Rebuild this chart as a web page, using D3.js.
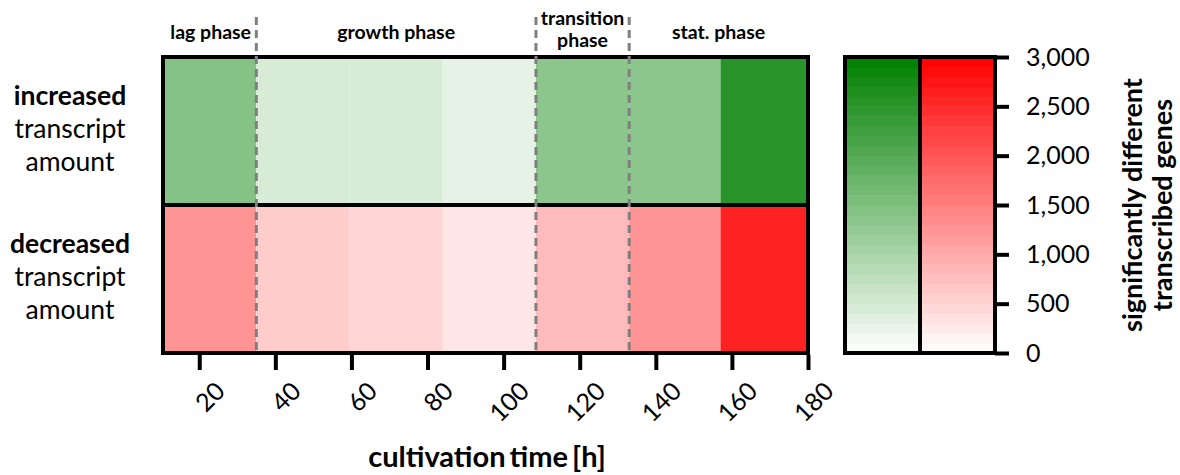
<!DOCTYPE html>
<html>
<head>
<meta charset="UTF-8">
<script src="https://d3js.org/d3.v7.min.js"></script>
<style>
    body { margin: 0; background: #fff; }
    text { font-family: Lato, "Open Sans", sans-serif; fill: #000; }
</style>
</head>
<body>
<svg id="chart" width="1180" height="475"></svg>
<script>
    // sampling points (h) - cell edges of the heat map
    var sampleTimes = [11, 35, 59.5, 84, 108.5, 133, 157, 180];
    var rowNames = ["increased", "decreased"];
    // number of significantly different transcribed genes per interval
    var increasedGenes = [1430, 470, 470, 300, 1340, 1350, 2520];
    var decreasedGenes = [1260, 600, 505, 295, 800, 1260, 2600];
    var timeTicks = [20, 40, 60, 80, 100, 120, 140, 160, 180];
    var colorTicks = [0, 500, 1000, 1500, 2000, 2500, 3000];
    var phaseBounds = [35, 108.5, 133];
    var phaseNames = [["lag phase"], ["growth phase"], ["transition", "phase"], ["stat. phase"]];
    var phaseEdges = [11, 35, 108.5, 133, 180];

    var svg = d3.select("#chart");

    var x = d3.scaleLinear().domain([11, 180]).range([165, 808]);
    var y = d3.scaleBand().domain(rowNames).range([57, 353]);
    var colorY = d3.scaleLinear().domain([0, 3000]).range([353, 57]);
    var green = d3.scaleLinear().domain([0, 3000]).range(["#ffffff", "#008000"]);
    var red = d3.scaleLinear().domain([0, 3000]).range(["#ffffff", "#ff0000"]);

    var rows = [
        {name: "increased", values: increasedGenes, color: green},
        {name: "decreased", values: decreasedGenes, color: red}
    ];

    // heat map cells
    var heat = svg.append("g");
    rows.forEach(function(r){
        heat.selectAll(null)
            .data(r.values)
            .enter()
            .append("rect")
                .attr("x", function(d,i){return x(sampleTimes[i]);})
                .attr("y", y(r.name))
                .attr("width", function(d,i){return x(sampleTimes[i+1]) - x(sampleTimes[i]);})
                .attr("height", y.bandwidth())
                .attr("fill", function(d){return r.color(d);});
    });

    // frame + row divider
    svg.append("rect")
        .attr("x", x(11) - 2).attr("y", 57)
        .attr("width", x(180) - x(11) + 2).attr("height", 296)
        .attr("fill", "none").attr("stroke", "#000").attr("stroke-width", 4);
    svg.append("line")
        .attr("x1", x(11) - 2).attr("x2", x(180))
        .attr("y1", y("decreased")).attr("y2", y("decreased"))
        .attr("stroke", "#000").attr("stroke-width", 4);

    // phase separators
    svg.selectAll(".phase")
        .data(phaseBounds)
        .enter()
        .append("line")
            .attr("x1", function(d){return x(d);})
            .attr("x2", function(d){return x(d);})
            .attr("y1", 17).attr("y2", 353)
            .attr("stroke", "#7f7f7f").attr("stroke-width", 3)
            .attr("stroke-dasharray", "8,5");

    // phase labels
    phaseNames.forEach(function(lines, i){
        var cx = (x(phaseEdges[i]) + x(phaseEdges[i+1])) / 2;
        var t = svg.append("text")
            .attr("text-anchor", "middle")
            .attr("font-size", 19.5)
            .attr("font-weight", "bold");
        lines.forEach(function(l, j){
            t.append("tspan")
                .attr("x", cx)
                .attr("y", lines.length === 1 ? 39 : 25 + j * 22)
                .text(l);
        });
    });

    // row labels
    rows.forEach(function(r){
        var cy = y(r.name) + y.bandwidth() / 2;
        var t = svg.append("text")
            .attr("text-anchor", "middle")
            .attr("font-size", 26.5);
        t.append("tspan").attr("x", 70).attr("y", cy - 26).attr("font-weight", "bold").text(r.name);
        t.append("tspan").attr("x", 70).attr("y", cy + 7).text("transcript");
        t.append("tspan").attr("x", 70).attr("y", cy + 40).text("amount");
    });

    // x axis
    var xAxis = svg.append("g")
        .attr("transform", "translate(0,355)")
        .call(d3.axisBottom(x).tickValues(timeTicks).tickSize(15).tickSizeOuter(0));
    xAxis.select(".domain").remove();
    xAxis.selectAll(".tick line").attr("stroke", "#000").attr("stroke-width", 4);
    xAxis.selectAll(".tick text")
        .attr("font-size", 25)
        .attr("font-family", "Lato, sans-serif")
        .attr("text-anchor", "end")
        .attr("dy", 0)
        .attr("transform", "translate(14,25) rotate(-45)");

    svg.append("text")
        .attr("x", 487).attr("y", 467)
        .attr("text-anchor", "middle")
        .attr("font-size", 29)
        .attr("font-weight", "bold")
        .attr("word-spacing", -3)
        .text("cultivation time [h]");

    // color bar
    var bandCount = 30;
    var bands = d3.range(bandCount).map(function(i){return i * 3000 / bandCount;});
    var barLeft = 845, colW = 75;
    [green, red].forEach(function(c, k){
        svg.append("g").selectAll("rect")
            .data(bands)
            .enter()
            .append("rect")
                .attr("x", barLeft + k * colW)
                .attr("y", function(d){return colorY(d + 3000 / bandCount);})
                .attr("width", colW)
                .attr("height", colorY(0) - colorY(3000 / bandCount) + 0.5)
                .attr("fill", function(d){return c(d + 50);});
    });
    svg.append("rect")
        .attr("x", barLeft).attr("y", 57)
        .attr("width", colW * 2).attr("height", 296)
        .attr("fill", "none").attr("stroke", "#000").attr("stroke-width", 4);
    svg.append("line")
        .attr("x1", barLeft + colW).attr("x2", barLeft + colW)
        .attr("y1", 57).attr("y2", 353)
        .attr("stroke", "#000").attr("stroke-width", 4);

    var cAxis = svg.append("g")
        .attr("transform", "translate(" + (barLeft + colW * 2) + ",0)")
        .call(d3.axisRight(colorY).tickValues(colorTicks).tickSize(14).tickFormat(d3.format(",")));
    cAxis.select(".domain").remove();
    cAxis.selectAll(".tick line").attr("stroke", "#000").attr("stroke-width", 4);
    cAxis.selectAll(".tick text")
        .attr("font-size", 25)
        .attr("font-family", "Lato, sans-serif")
        .attr("x", 31);

    var ct = svg.append("text")
        .attr("transform", "translate(1148,205) rotate(-90)")
        .attr("text-anchor", "middle")
        .attr("font-size", 27)
        .attr("font-weight", "bold");
    ct.append("tspan").attr("x", 0).attr("y", -6).text("significantly different");
    ct.append("tspan").attr("x", 0).attr("y", 24).text("transcribed genes");
</script>
</body>
</html>
